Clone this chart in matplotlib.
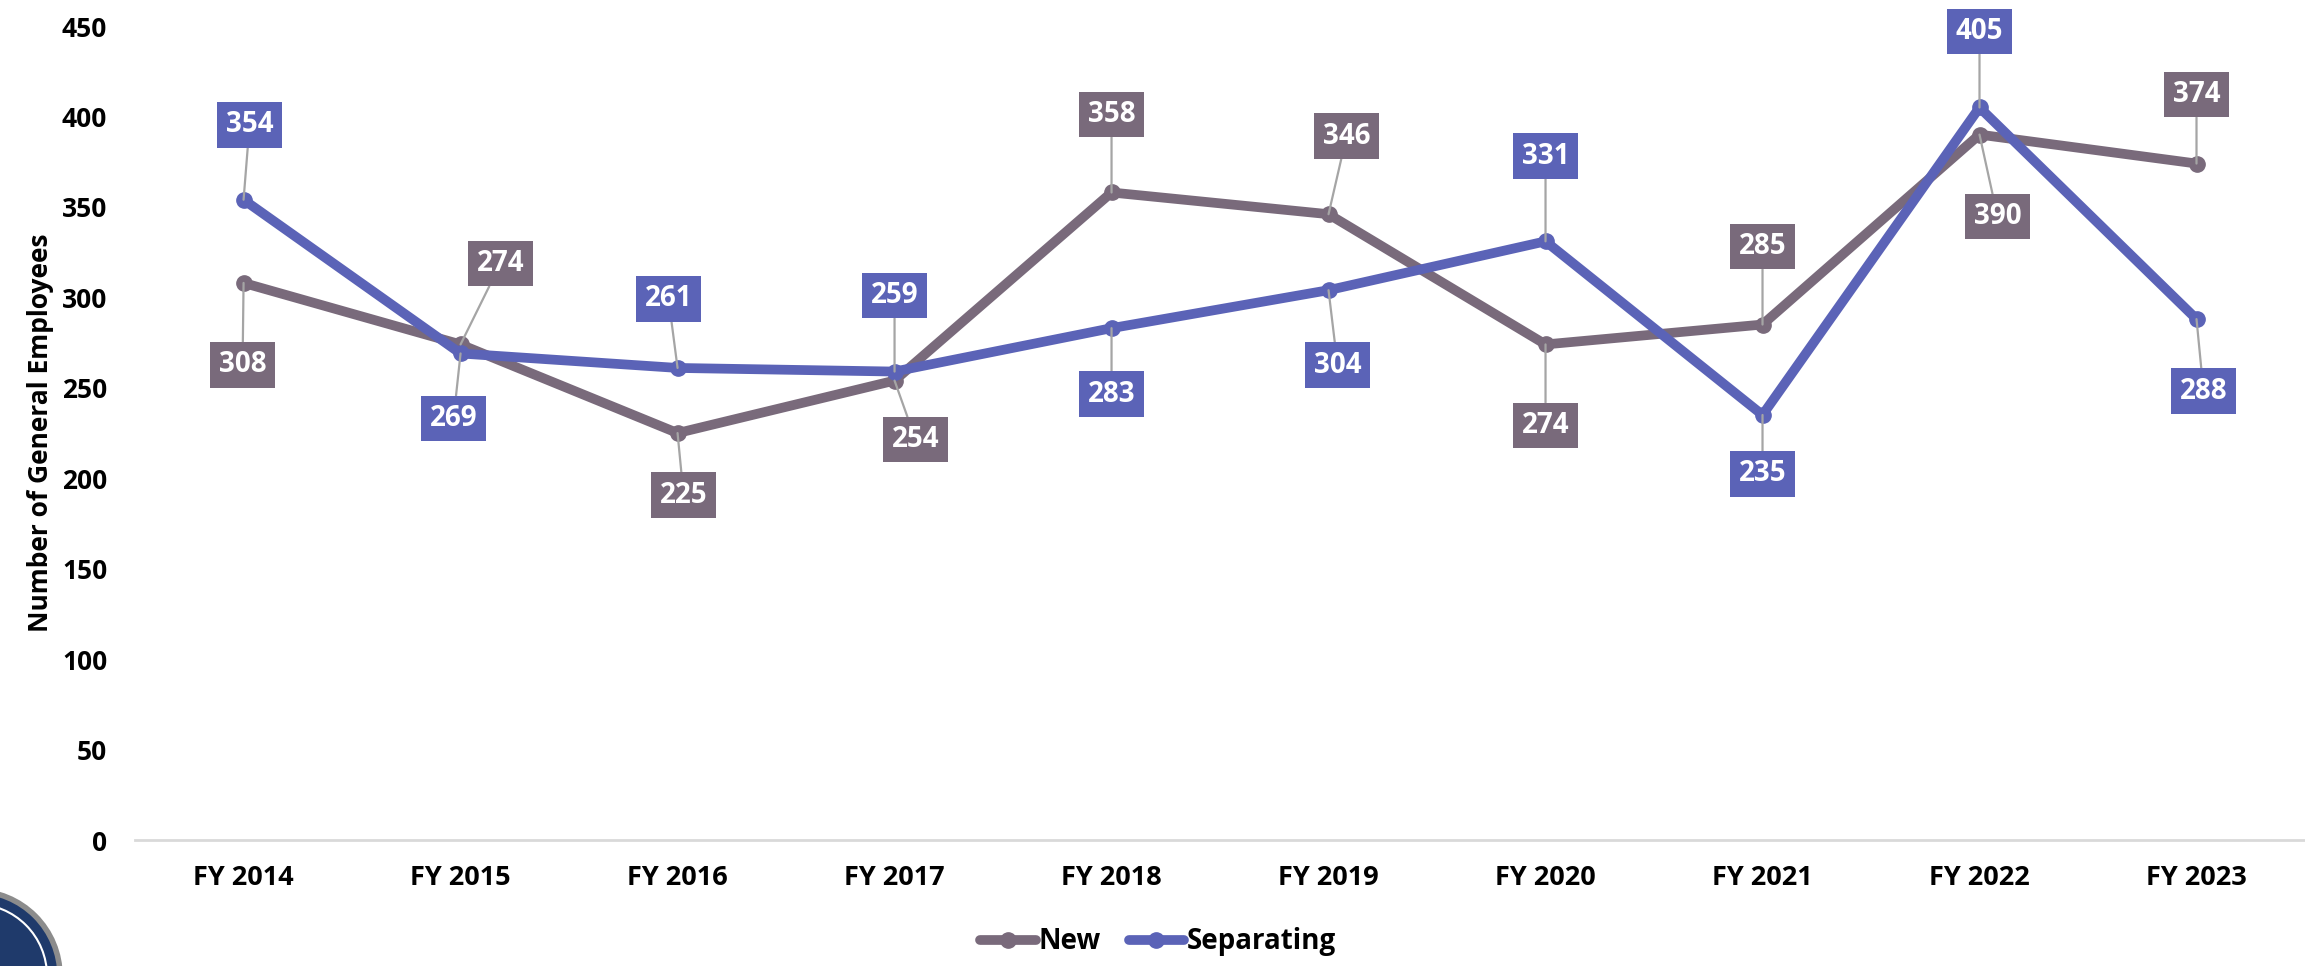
import matplotlib
matplotlib.use("Agg")
import matplotlib.pyplot as plt
from matplotlib.patches import Circle

years = ["FY 2014", "FY 2015", "FY 2016", "FY 2017", "FY 2018",
         "FY 2019", "FY 2020", "FY 2021", "FY 2022", "FY 2023"]
new_vals = [308, 274, 225, 254, 358, 346, 274, 285, 390, 374]
sep_vals = [354, 269, 261, 259, 283, 304, 331, 235, 405, 288]

NEW_C = "#796A7B"
SEP_C = "#5B63B7"

# label offsets (pixels) for data callouts
new_off = [(-1, -82), (40, 81), (6, -62), (21, -59), (0, 78),
           (18, 78), (0, -81), (0, 78), (18, -82), (0, 69)]
sep_off = [(6, 75), (-7, -65), (-9, 69), (0, 76), (0, -66),
           (9, -75), (0, 85), (0, -59), (0, 76), (7, -72)]

plt.rcParams['font.family'] = ['Open Sans', 'DejaVu Sans']

fig = plt.figure(figsize=(23.05, 9.66), dpi=100)
ax = fig.add_axes([0.0586, 0.1304, 0.9414, 0.8426])

x = list(range(len(years)))
ax.plot(x, new_vals, color=NEW_C, lw=7, marker='o', ms=11,
        solid_capstyle='round', label='New', zorder=3)
ax.plot(x, sep_vals, color=SEP_C, lw=7, marker='o', ms=11,
        solid_capstyle='round', label='Separating', zorder=4)

def callouts(vals, offs, color):
    for i, (v, o) in enumerate(zip(vals, offs)):
        ax.annotate(str(v), xy=(i, v), xytext=o, textcoords='offset pixels',
                    ha='center', va='center', color='white', fontsize=20,
                    fontweight='bold',
                    bbox=dict(boxstyle='square,pad=0.3', fc=color, ec='none'),
                    arrowprops=dict(arrowstyle='-', color='#A5A5A5', lw=1.6,
                                    shrinkA=0, shrinkB=0),
                    zorder=6)

callouts(new_vals, new_off, NEW_C)
callouts(sep_vals, sep_off, SEP_C)

ax.set_xlim(-0.5, len(years) - 0.5)
ax.set_ylim(0, 450)
ax.set_yticks(range(0, 451, 50))
ax.set_xticks(x)
ax.set_xticklabels(years)
for lab in ax.get_xticklabels():
    lab.set_fontweight('bold')
    lab.set_fontsize(19.5)
for lab in ax.get_yticklabels():
    lab.set_fontweight('bold')
    lab.set_fontsize(19)
ax.tick_params(axis='both', length=0)
ax.tick_params(axis='x', pad=18)
ax.tick_params(axis='y', pad=20)

for s in ['top', 'right', 'left']:
    ax.spines[s].set_visible(False)
ax.spines['bottom'].set_color('#D9D9D9')
ax.spines['bottom'].set_linewidth(2)

ax.set_ylabel('Number of General Employees', fontsize=19, fontweight='bold',
              labelpad=6)

leg = fig.legend(loc='center', bbox_to_anchor=(0.5025, 0.025), ncol=2,
                 frameon=False, handlelength=2.0,
                 handletextpad=0.1, columnspacing=1.0,
                 prop={'weight': 'bold', 'size': 20, 'family': 'Open Sans'})

# partial seal at bottom-left corner
seal = Circle((-0.25, -0.1), 0.85, transform=fig.dpi_scale_trans,
              facecolor='#1F3A6B', edgecolor='#8C8C8C', lw=4, zorder=0)
fig.patches.append(seal)
inner = Circle((-0.25, -0.1), 0.72, transform=fig.dpi_scale_trans,
               facecolor='none', edgecolor='white', lw=1.5, zorder=1)
fig.patches.append(inner)

fig.savefig('out.png', dpi=100)
